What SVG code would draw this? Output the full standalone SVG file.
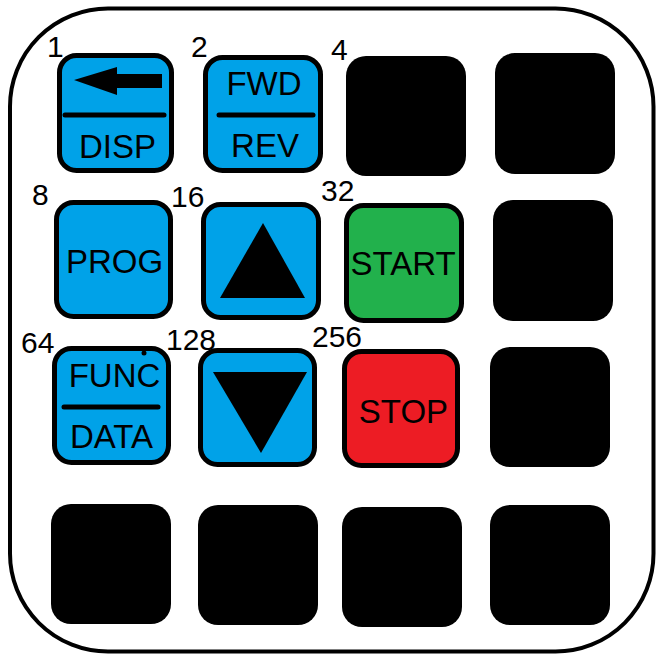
<svg xmlns="http://www.w3.org/2000/svg" width="663" height="661" viewBox="0 0 663 661">
<style>
.frame{fill:#fff;stroke:#000;stroke-width:4}
.key{stroke:#000;stroke-width:5}
.blue{fill:#00a2e8}
.green{fill:#22b14c}
.red{fill:#ed1c24}
.blank{fill:#000}
.t{font-family:"Liberation Sans",Arial,sans-serif;font-size:33px;fill:#000;text-anchor:middle}
.n{font-family:"Liberation Sans",Arial,sans-serif;font-size:30px;fill:#000}
.sep{stroke:#000;stroke-width:5;stroke-linecap:round}
</style>
<rect width="663" height="661" fill="#fff"/>
<rect class="frame" x="10" y="8.5" width="643.5" height="643" rx="98" ry="98"/>
<g id="key1">
<rect class="key blue" x="59.5" y="55.5" width="112" height="115" rx="17"/>
<polygon points="74,80 117,67 117,74 162,74 162,88 117,88 117,95" fill="#000"/>
<line class="sep" x1="65" y1="115" x2="164" y2="115"/>
<text class="t" x="117.5" y="158">DISP</text>
<text class="n" x="47" y="57">1</text>
</g>
<g id="key2">
<rect class="key blue" x="205.5" y="57.5" width="115" height="113" rx="17"/>
<text class="t" x="264" y="95">FWD</text>
<line class="sep" x1="219" y1="115" x2="313" y2="115"/>
<text class="t" x="265" y="157">REV</text>
<text class="n" x="191" y="57">2</text>
</g>
<g id="key4">
<rect class="blank" x="346" y="56" width="120" height="120" rx="20"/>
<text class="n" x="331" y="60">4</text>
</g>
<g id="key-r1c4"><rect class="blank" x="495" y="53" width="120" height="121" rx="20"/></g>
<g id="key8">
<rect class="key blue" x="56.5" y="202.5" width="114" height="114" rx="17"/>
<text class="t" x="114.5" y="273">PROG</text>
<text class="n" x="32" y="205">8</text>
</g>
<g id="key16">
<rect class="key blue" x="203.5" y="204.5" width="115" height="113" rx="17"/>
<polygon points="263,223 305,298 220,298" fill="#000"/>
<text class="n" x="171" y="207">16</text>
</g>
<g id="key32">
<rect class="key green" x="346.5" y="205.5" width="115" height="115" rx="17"/>
<text class="t" x="403" y="275">START</text>
<text class="n" x="321" y="201">32</text>
</g>
<g id="key-r2c4"><rect class="blank" x="493" y="200" width="120" height="121" rx="20"/></g>
<g id="key64">
<rect class="key blue" x="54.5" y="348.5" width="114" height="114" rx="17"/>
<circle cx="144" cy="353" r="2.5" fill="#000"/>
<text class="t" x="114.5" y="387">FUNC</text>
<line class="sep" x1="64" y1="407" x2="158" y2="407"/>
<text class="t" x="111.5" y="448">DATA</text>
<text class="n" x="21" y="353">64</text>
</g>
<g id="key128">
<rect class="key blue" x="200.5" y="350.5" width="114" height="114" rx="17"/>
<polygon points="213,372 307,372 261,453" fill="#000"/>
<text class="n" x="166" y="350">128</text>
</g>
<g id="key256">
<rect class="key red" x="344.5" y="351.5" width="113" height="114" rx="17"/>
<text class="t" x="403.5" y="423">STOP</text>
<text class="n" x="312" y="347">256</text>
</g>
<g id="key-r3c4"><rect class="blank" x="490" y="347" width="120" height="120" rx="20"/></g>
<g id="key-r4c1"><rect class="blank" x="51" y="504" width="120" height="120" rx="20"/></g>
<g id="key-r4c2"><rect class="blank" x="198" y="505" width="120" height="120" rx="20"/></g>
<g id="key-r4c3"><rect class="blank" x="342" y="507" width="120" height="120" rx="20"/></g>
<g id="key-r4c4"><rect class="blank" x="490" y="505" width="120" height="120" rx="20"/></g>
<g id="connectors"/>
</svg>
